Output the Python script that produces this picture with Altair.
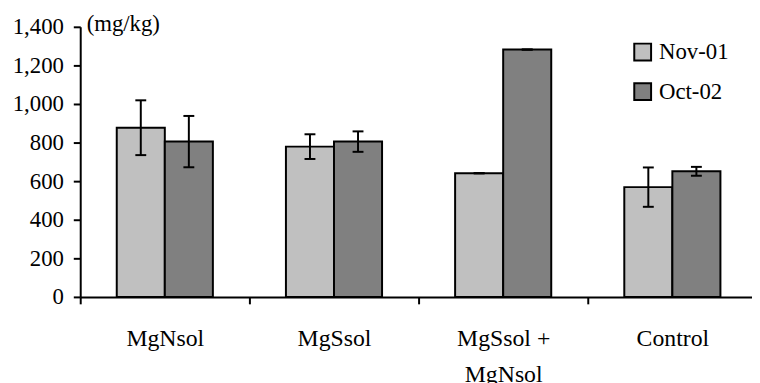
import altair as alt
import pandas as pd

categories = ["MgNsol", "MgSsol", "MgSsol + MgNsol", "Control"]
series = ["Nov-01", "Oct-02"]
nov_values = [877, 779, 641, 569]
nov_err = [142, 64, 0, 102]
oct_values = [805, 805, 1282, 651]
oct_err = [133, 53, 0, 23]
y_ticks = [0, 200, 400, 600, 800, 1000, 1200, 1400]
colors = ["#c0c0c0", "#808080"]

rows = []
for i, c in enumerate(categories):
    rows.append({"category": c, "series": series[0], "value": nov_values[i],
                 "lo": nov_values[i] - nov_err[i], "hi": nov_values[i] + nov_err[i]})
    rows.append({"category": c, "series": series[1], "value": oct_values[i],
                 "lo": oct_values[i] - oct_err[i], "hi": oct_values[i] + oct_err[i]})
df = pd.DataFrame(rows)

FONT = "'Liberation Serif', 'Times New Roman', Times, 'DejaVu Serif', serif"
YTITLE = "(mg/kg)"

xenc = alt.X(
    "category:N", sort=categories,
    scale=alt.Scale(paddingInner=0, paddingOuter=0, range=[0, 684]),
    axis=alt.Axis(title=None, labelAngle=0, tickBand="extent", tickSize=7,
                  labelPadding=23, labelLineHeight=37, labelBaseline="top",
                  labelFontSize=24,
                  labelExpr="datum.label == 'MgSsol + MgNsol' ? ['MgSsol +', 'MgNsol'] : datum.label"),
)
xoff = alt.XOffset("series:N", sort=series, scale=alt.Scale(paddingInner=0, paddingOuter=0.76))

base = alt.Chart(df).encode(x=xenc, xOffset=xoff)

yscale = alt.Scale(domain=[0, 1400], nice=False)
yaxis = alt.Axis(values=y_ticks, tickSize=7, labelPadding=10, labelOverlap=False,
                 labelExpr="format(datum.value, ',')",
                 titleAngle=0, titleAlign="left",
                 titleBaseline="middle", titleX=6, titleY=-3,
                 titleFont=FONT, titleFontSize=23, titleFontWeight="normal",
                 titleColor="black")

bars = base.mark_bar(stroke="black", strokeWidth=2).encode(
    y=alt.Y("value:Q", scale=yscale, title=YTITLE, axis=yaxis),
    color=alt.Color("series:N", sort=series,
                    scale=alt.Scale(domain=series, range=colors),
                    legend=alt.Legend(title=None, orient="none", legendX=557, legendY=14,
                                      symbolType="square", symbolSize=289,
                                      symbolStrokeColor="black", symbolStrokeWidth=2,
                                      symbolOpacity=1,
                                      labelFont=FONT, labelFontSize=23, labelColor="black",
                                      labelOffset=5, rowPadding=15)),
)

rules = base.mark_rule(color="black", strokeWidth=2).encode(
    y=alt.Y("lo:Q", scale=yscale, title=YTITLE, axis=yaxis), y2="hi:Q"
)
cap_top = base.mark_tick(color="black", thickness=2, size=11, opacity=1).encode(
    y=alt.Y("hi:Q", scale=yscale, title=YTITLE, axis=yaxis)
)
cap_bot = base.mark_tick(color="black", thickness=2, size=11, opacity=1).encode(
    y=alt.Y("lo:Q", scale=yscale, title=YTITLE, axis=yaxis)
)

chart = alt.layer(bars, rules, cap_top, cap_bot).properties(
    width=679, height=273,
    autosize=alt.AutoSizeParams(type="none"),
    padding={"left": 73, "top": 17, "right": 0, "bottom": 85},
).configure(font=FONT).configure_view(stroke=None).configure_axis(
    grid=False, domainColor="black", domainWidth=2, tickColor="black", tickWidth=2,
    labelFont=FONT, labelFontSize=23, labelColor="black",
)

chart.save("out.html", embed_options={"renderer": "svg", "actions": False})
